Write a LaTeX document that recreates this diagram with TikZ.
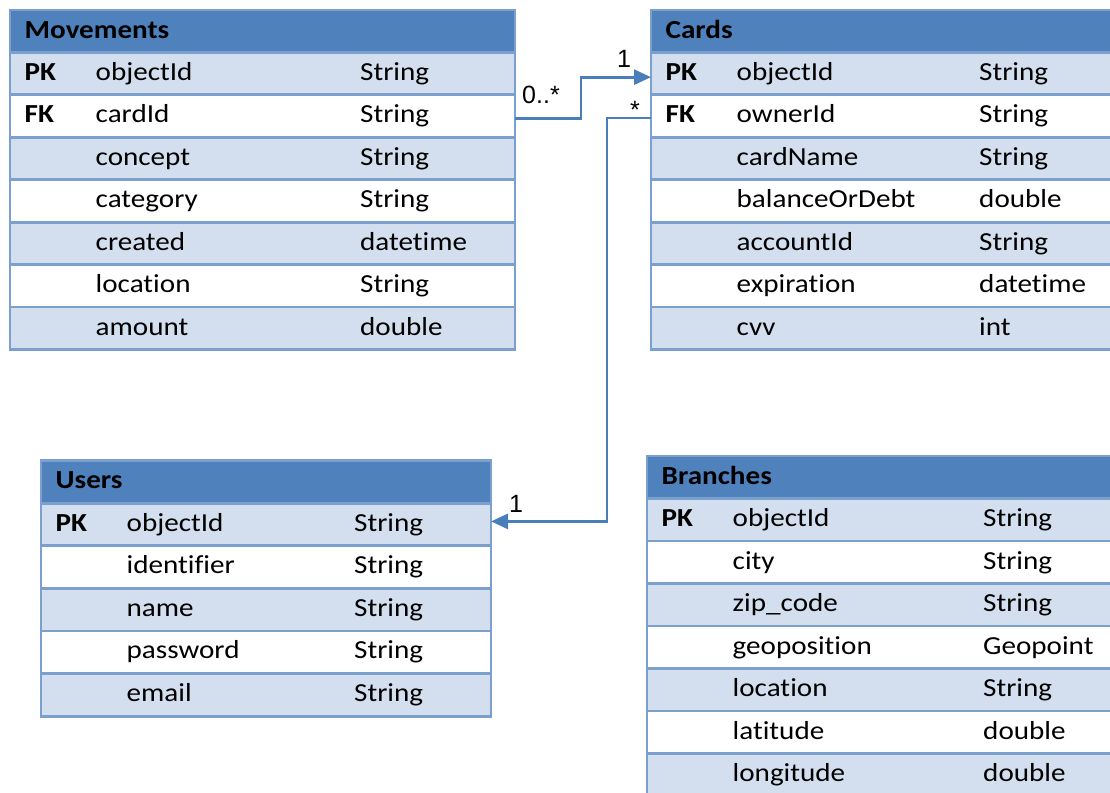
\documentclass[tikz,border=0pt]{standalone}
\usepackage{fontspec}
\setmainfont{Carlito}[FakeStretch=1.12, Ligatures=NoCommon]
\newfontfamily\labelfont{Liberation Sans}
\usetikzlibrary{arrows.meta}

\definecolor{hdrblue}{HTML}{4F81BD}
\definecolor{rowblue}{HTML}{D3DFEE}
\definecolor{gridblue}{HTML}{7BA0CD}
\definecolor{linkblue}{HTML}{4A7EBB}

\tikzset{
  cell/.style={draw=gridblue, line width=2.8pt, inner sep=0pt, outer sep=0pt, rectangle},
  hdrcell/.style={cell, fill=hdrblue},
  txt/.style={inner sep=0pt, anchor=base west, font=\fontsize{26}{30}\selectfont},
  boldtxt/.style={txt, font=\fontsize{26}{30}\selectfont\bfseries},
  link/.style={draw=linkblue, line width=2.8pt, -{Triangle[length=17pt,width=15pt]}},
  mult/.style={inner sep=0pt, anchor=base west, font=\labelfont\fontsize{25}{29}\selectfont},
}

% \ertable{name}{left}{top}{width}{row height}{type column offset}{title}{key/field/type rows}
\newcommand\ertable[8]{%
  \node[hdrcell, minimum width=#4pt, minimum height=#5pt, anchor=north west] (#1-0) at (#2,#3) {};
  \node[boldtxt] (#1-title) at ([xshift=14.5pt,yshift=-28pt]#1-0.north west) {#7};
  \foreach \k/\n/\t [count=\i] in {#8}{%
    \pgfmathtruncatemacro\oddrow{mod(\i,2)}%
    \ifnum\oddrow=1 \def\rowfill{rowblue}\else\def\rowfill{white}\fi
    \pgfmathsetmacro\rowtop{#3+\i*#5}%
    \node[cell, fill=\rowfill, minimum width=#4pt, minimum height=#5pt, anchor=north west] (#1-\i) at (#2,\rowtop) {};
    \node[boldtxt] (#1-\i-key) at ([xshift=14.5pt,yshift=-28pt]#1-\i.north west) {\k};
    \node[txt] (#1-\i-name) at ([xshift=85.5pt,yshift=-28pt]#1-\i.north west) {\n};
    \node[txt] (#1-\i-type) at ([xshift=#6pt,yshift=-28pt]#1-\i.north west) {\t};
  }%
}

\begin{document}
\begin{tikzpicture}[x=1pt, y=-1pt]
\useasboundingbox (0,0) rectangle (1110,792);
\clip (0,0) rectangle (1110,792);

\ertable{mov}{10}{10}{505}{42.43}{350}{Movements}{
  PK/objectId/String, FK/cardId/String, {}/concept/String, {}/category/String,
  {}/created/datetime, {}/location/String, {}/amount/double}

\ertable{card}{651}{10}{480}{42.43}{328}{Cards}{
  PK/objectId/String, FK/ownerId/String, {}/cardName/String, {}/balanceOrDebt/double,
  {}/accountId/String, {}/expiration/datetime, {}/cvv/int}

\ertable{usr}{41}{460.5}{450}{42.6}{313}{Users}{
  PK/objectId/String, {}/identifier/String, {}/name/String, {}/password/String,
  {}/email/String}

\ertable{br}{647}{456}{480}{42.5}{336}{Branches}{
  PK/objectId/String, {}/city/String, {}/zip\_code/String, {}/geoposition/Geopoint,
  {}/location/String, {}/latitude/double, {}/longitude/double}

% relationships
\draw[link] ([yshift=-2.5pt]mov-2.east) -- ++(66,0) |- ([yshift=-3.5pt]card-1.west);
\draw[link] ([yshift=-2pt]card-2.west) -- ++(-44,0) |- ([yshift=3pt]usr-1.east);

% multiplicities
\node[mult] (m-mov) at (522,103) {0..*};
\node[mult] (m-card1) at (617,67) {1};
\node[mult] (m-card2) at (630,118) {*};
\node[mult] (m-usr) at (509,512) {1};
\end{tikzpicture}
\end{document}
